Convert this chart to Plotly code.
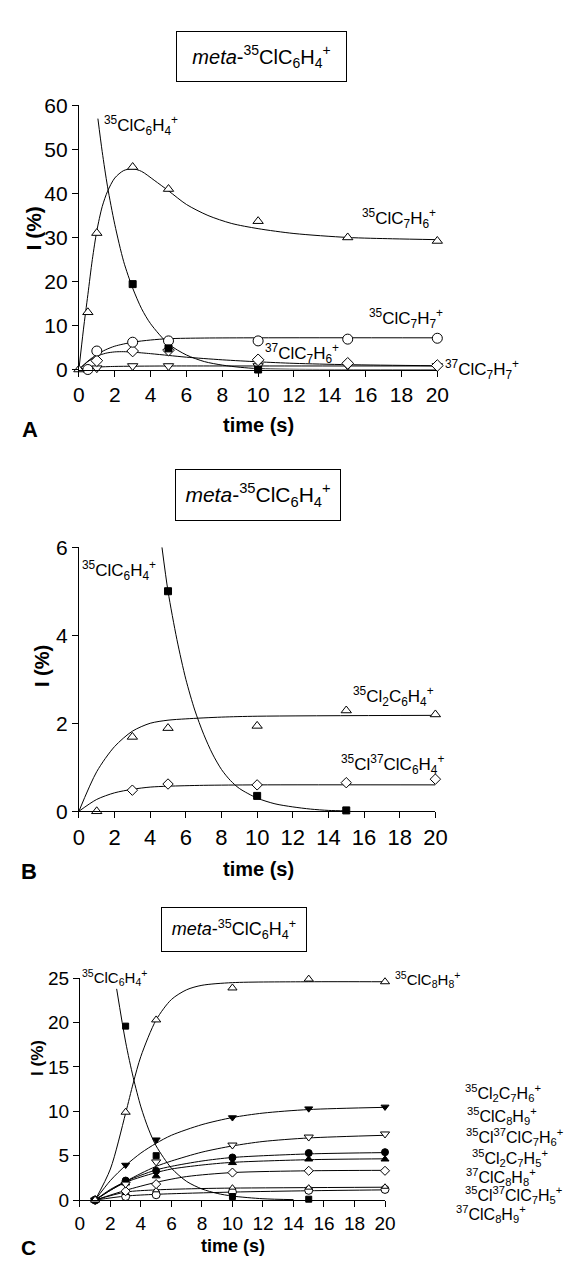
import plotly.graph_objects as go

W, H = 575, 1261
FONT = "Liberation Sans, Arial, sans-serif"

# ---------------- Panel A data ----------------
tA_tri = [0, 0.5, 1, 3, 5, 10, 15, 20]
IA_tri = [0, 13, 31, 46, 41, 33.7, 30, 29.2]
tA_tri_fit = [0, 0.25, 0.5, 0.75, 1.0, 1.3, 1.6, 2.0, 2.5, 3.0, 3.5, 4.2, 5, 6, 7.2, 8.5, 10, 12, 15, 17.5, 20]
IA_tri_fit = [0, 9, 17, 25, 31.5, 37, 40.5, 43.5, 45.2, 45.6, 45.0, 43, 40.6, 37.5, 35, 33.2, 32, 30.9, 30, 29.7, 29.5]

tA_sq = [3, 5, 10, 15]
IA_sq = [19.4, 4.8, 0.0, -0.4]
tA_sq_fit = [1.06, 1.3, 1.6, 2, 2.5, 3, 3.5, 4, 5, 6, 7, 8, 9, 10, 12, 15, 20]
IA_sq_fit = [57, 49.5, 41.5, 33, 24.5, 18.5, 13.8, 10.4, 5.8, 3.3, 1.8, 1.0, 0.5, 0.2, 0.05, 0, 0]

tA_circ = [0.5, 1, 3, 5, 10, 15, 20]
IA_circ = [0, 4.2, 6.2, 6.5, 6.5, 6.9, 7.1]
tA_circ_fit = [0, 0.5, 1, 1.5, 2, 3, 4, 5, 7, 10, 20]
IA_circ_fit = [0, 1.9, 3.4, 4.5, 5.3, 6.2, 6.7, 7.0, 7.15, 7.2, 7.2]

tA_dia = [1, 3, 5, 10, 15, 20]
IA_dia = [2.0, 4.2, 4.4, 2.2, 1.4, 0.9]
tA_dia_fit = [0, 0.5, 1, 1.5, 2, 2.5, 3, 4, 5, 6, 8, 10, 12, 15, 20]
IA_dia_fit = [0, 1.8, 3.0, 3.7, 4.0, 4.05, 3.95, 3.6, 3.2, 2.8, 2.2, 1.75, 1.4, 1.1, 0.85]

tA_inv = [1, 3, 5, 10, 15, 20]
IA_inv = [0.3, 0.8, 0.8, 0.8, 0.9, 0.8]
tA_inv_fit = [0, 0.5, 1, 2, 3, 5, 10, 20]
IA_inv_fit = [0, 0.4, 0.55, 0.7, 0.75, 0.8, 0.8, 0.8]

# ---------------- Panel B data ----------------
tB_sq = [5, 10, 15]
IB_sq = [5.0, 0.35, 0.02]
tB_sq_fit = [4.66, 5, 5.5, 6, 6.5, 7, 7.5, 8, 8.5, 9, 10, 11, 12, 13, 14, 15]
IB_sq_fit = [6.0, 5.0, 3.9, 3.0, 2.3, 1.75, 1.3, 0.95, 0.7, 0.52, 0.3, 0.17, 0.1, 0.05, 0.02, 0.01]

tB_tri = [1, 3, 5, 10, 15, 20]
IB_tri = [0, 1.69, 1.89, 1.94, 2.29, 2.2]
tB_tri_fit = [0, 1, 2, 3, 4, 5, 6, 8, 10, 20]
IB_tri_fit = [0, 0.9, 1.47, 1.82, 2.0, 2.07, 2.1, 2.14, 2.16, 2.18]

tB_dia = [3, 5, 10, 15, 20]
IB_dia = [0.48, 0.62, 0.6, 0.65, 0.73]
tB_dia_fit = [0, 1, 2, 3, 4, 5, 7, 10, 20]
IB_dia_fit = [0, 0.27, 0.42, 0.5, 0.55, 0.57, 0.59, 0.6, 0.6]

# ---------------- Panel C data ----------------
tC_sq = [3, 5, 10, 15]
IC_sq = [19.6, 5.0, 0.4, 0.1]
tC_sq_fit = [2.41, 3, 3.5, 4, 4.5, 5, 6, 7, 8, 9, 10, 12, 14]
IC_sq_fit = [23.8, 17.8, 13.8, 10.5, 8, 6.1, 3.6, 2.1, 1.25, 0.75, 0.45, 0.15, 0.05]

tC = [1, 3, 5, 10, 15, 20]
IC_tri = [0, 9.9, 20.3, 23.9, 24.9, 24.6]
tC_tri_fit = [1, 2, 3, 3.5, 4, 5, 6, 7, 8, 10, 15, 20]
IC_tri_fit = [0, 3.5, 9.8, 13.2, 16.2, 20.3, 22.6, 23.7, 24.2, 24.5, 24.6, 24.6]

IC_inv_f = [0, 3.95, 6.8, 9.3, 10.3, 10.5]
tC_inv_f_fit = [1, 2, 3, 4, 5, 6, 8, 10, 12, 15, 20]
IC_inv_f_fit = [0, 2.2, 3.9, 5.3, 6.4, 7.3, 8.5, 9.3, 9.8, 10.2, 10.45]

IC_inv_o = [0, 1.8, 4.3, 6.2, 7.1, 7.45]
tC_inv_o_fit = [1, 2, 3, 4, 5, 6, 8, 10, 12, 15, 20]
IC_inv_o_fit = [0, 1.1, 2.1, 3.0, 3.8, 4.4, 5.4, 6.1, 6.6, 7.0, 7.3]

IC_circ_f = [0, 2.2, 3.3, 4.8, 5.3, 5.4]
tC_circ_f_fit = [1, 2, 3, 4, 5, 6, 8, 10, 15, 20]
IC_circ_f_fit = [0, 1.2, 2.1, 2.8, 3.4, 3.8, 4.4, 4.8, 5.2, 5.35]

IC_tri_f = [0, 1.9, 2.7, 4.2, 4.6, 4.6]
tC_tri_f_fit = [1, 2, 3, 4, 5, 6, 8, 10, 15, 20]
IC_tri_f_fit = [0, 1.1, 2.0, 2.6, 3.1, 3.5, 3.95, 4.25, 4.55, 4.65]

IC_dia = [0, 1.0, 1.8, 3.1, 3.3, 3.3]
tC_dia_fit = [1, 3, 5, 7, 10, 15, 20]
IC_dia_fit = [0, 1.1, 2.0, 2.65, 3.1, 3.3, 3.35]

IC_tri_s = [0, 0.8, 1.1, 1.4, 1.4, 1.5]
tC_tri_s_fit = [1, 3, 5, 8, 10, 20]
IC_tri_s_fit = [0, 0.9, 1.15, 1.3, 1.35, 1.45]

IC_circ_o = [0, 0.4, 0.6, 0.9, 1.1, 1.2]
tC_circ_o_fit = [1, 3, 5, 10, 15, 20]
IC_circ_o_fit = [0, 0.45, 0.65, 0.9, 1.05, 1.15]

xticks = list(range(0, 21, 2))

# ---------------- figure ----------------
fig = go.Figure()


def px_x(x):
    return x / W


def px_y(y):
    return 1 - y / H


def add_fit(t, v, ax):
    fig.add_trace(go.Scatter(x=t, y=v, mode="lines", xaxis=ax[0], yaxis=ax[1],
                             line=dict(color="black", width=1, shape="spline", smoothing=0.8),
                             hoverinfo="skip", showlegend=False))


def add_pts(t, v, ax, symbol, size, fill=False):
    fig.add_trace(go.Scatter(x=t, y=v, mode="markers", xaxis=ax[0], yaxis=ax[1], cliponaxis=False,
                             marker=dict(symbol=symbol, size=size,
                                         color="black" if fill else "white",
                                         line=dict(color="black", width=1)),
                             showlegend=False))


A = ("x", "y")
B = ("x2", "y2")
C = ("x3", "y3")

# Panel A
for t, v in [(tA_tri_fit, IA_tri_fit), (tA_sq_fit, IA_sq_fit), (tA_circ_fit, IA_circ_fit),
             (tA_dia_fit, IA_dia_fit), (tA_inv_fit, IA_inv_fit)]:
    add_fit(t, v, A)
add_pts(tA_inv, IA_inv, A, "triangle-down", 9)
add_pts(tA_dia, IA_dia, A, "diamond", 9)
add_pts(tA_circ, IA_circ, A, "circle", 10)
add_pts(tA_sq, IA_sq, A, "square", 7, fill=True)
add_pts(tA_tri, IA_tri, A, "triangle-up", 9)

# Panel B
for t, v in [(tB_sq_fit, IB_sq_fit), (tB_tri_fit, IB_tri_fit), (tB_dia_fit, IB_dia_fit)]:
    add_fit(t, v, B)
add_pts(tB_tri, IB_tri, B, "triangle-up", 9)
add_pts(tB_dia, IB_dia, B, "diamond", 8)
add_pts(tB_sq, IB_sq, B, "square", 7, fill=True)

# Panel C
for t, v in [(tC_sq_fit, IC_sq_fit), (tC_tri_fit, IC_tri_fit), (tC_inv_f_fit, IC_inv_f_fit),
             (tC_inv_o_fit, IC_inv_o_fit), (tC_circ_f_fit, IC_circ_f_fit), (tC_tri_f_fit, IC_tri_f_fit),
             (tC_dia_fit, IC_dia_fit), (tC_tri_s_fit, IC_tri_s_fit), (tC_circ_o_fit, IC_circ_o_fit)]:
    add_fit(t, v, C)
add_pts(tC, IC_circ_o, C, "circle", 8)
add_pts(tC, IC_tri_s, C, "triangle-up", 6)
add_pts(tC, IC_dia, C, "diamond", 7)
add_pts(tC, IC_tri_f, C, "triangle-up", 7, fill=True)
add_pts(tC, IC_circ_f, C, "circle", 7, fill=True)
add_pts(tC, IC_inv_o, C, "triangle-down", 8)
add_pts(tC, IC_inv_f, C, "triangle-down", 7, fill=True)
add_pts(tC_sq, IC_sq, C, "square", 6, fill=True)
add_pts(tC, IC_tri, C, "triangle-up", 8)


def axis_common(size):
    return dict(showline=True, linecolor="black", linewidth=1, ticks="outside", ticklen=6,
                tickwidth=1, tickcolor="black", showgrid=False, zeroline=False,
                tickfont=dict(family=FONT, size=size, color="black"), fixedrange=True)


# pixel geometry of the three plot areas
axA = dict(x0=67, x1=437, y0=356, y1=87)
axB = dict(x0=67, x1=435, y0=806, y1=537)
axC = dict(x0=68, x1=383, y0=1202, y1=976)

layout = dict(width=W, height=H, autosize=False, margin=dict(l=0, r=0, t=0, b=0),
              paper_bgcolor="white", plot_bgcolor="white",
              font=dict(family=FONT, color="black"))

for i, (g, yr, ydt, xs, ys) in enumerate([(axA, [0, 60], 10, 21, 21),
                                           (axB, [0, 6], 2, 22, 21),
                                           (axC, [0, 25], 5, 19, 19)]):
    sfx = "" if i == 0 else str(i + 1)
    layout["xaxis" + sfx] = dict(axis_common(xs), range=[0, 20], tickvals=xticks,
                                 domain=[px_x(g["x0"]), px_x(g["x1"])], anchor="y" + sfx)
    layout["yaxis" + sfx] = dict(axis_common(ys), range=yr, dtick=ydt,
                                 domain=[px_y(g["y0"]), px_y(g["y1"])], anchor="x" + sfx)

fig.update_layout(**layout)

ann = []


def label(text, x, y, size, anchor="center", bold=False, angle=0):
    ann.append(dict(text=("<b>%s</b>" % text) if bold else text, x=px_x(x), y=px_y(y),
                    xref="paper", yref="paper", showarrow=False, xanchor=anchor, yanchor="middle",
                    textangle=angle, font=dict(family=FONT, size=size, color="black")))


def box(x0, x1, y0, y1, size):
    ann.append(dict(text="<i>meta</i>-<sup>35</sup>ClC<sub>6</sub>H<sub>4</sub><sup>+</sup>",
                    x=px_x((x0 + x1) / 2), y=px_y((y0 + y1) / 2), xref="paper", yref="paper",
                    showarrow=False, xanchor="center", yanchor="middle",
                    width=x1 - x0 - 2, height=y1 - y0 - 2, borderpad=0,
                    bordercolor="black", borderwidth=1, bgcolor="white",
                    font=dict(family=FONT, size=size, color="black")))


box(170, 341, 12, 63, 20)
box(169, 335, 458, 510, 21)
box(154, 300, 904, 949, 18)

# axis titles and panel letters
label("I (%)", 20, 212, 21, bold=True, angle=-90)
label("I (%)", 29, 658, 20, bold=True, angle=-90)
label("I (%)", 25, 1057, 17, bold=True, angle=-90)
label("time (s)", 252, 413, 20, bold=True)
label("time (s)", 252, 865, 20, bold=True)
label("time (s)", 226, 1249, 18, bold=True)
label("A", 17, 417, 22, bold=True)
label("B", 16, 867, 22, bold=True)
label("C", 15, 1250, 21, bold=True)

# series labels panel A
label("<sup>35</sup>ClC<sub>6</sub>H<sub>4</sub><sup>+</sup>", 131, 107, 17)
label("<sup>35</sup>ClC<sub>7</sub>H<sub>6</sub><sup>+</sup>", 397, 202, 17)
label("<sup>35</sup>ClC<sub>7</sub>H<sub>7</sub><sup>+</sup>", 405, 304, 17)
label("<sup>37</sup>ClC<sub>7</sub>H<sub>6</sub><sup>+</sup>", 297, 340, 17)
label("<sup>37</sup>ClC<sub>7</sub>H<sub>7</sub><sup>+</sup>", 483, 356, 17)

# series labels panel B
label("<sup>35</sup>ClC<sub>6</sub>H<sub>4</sub><sup>+</sup>", 108, 561, 17)
label("<sup>35</sup>Cl<sub>2</sub>C<sub>6</sub>H<sub>4</sub><sup>+</sup>", 392, 689, 17)
label("<sup>35</sup>Cl<sup>37</sup>ClC<sub>6</sub>H<sub>4</sub><sup>+</sup>", 391, 758, 17)

# series labels panel C
label("<sup>35</sup>ClC<sub>6</sub>H<sub>4</sub><sup>+</sup>", 104, 975, 15)
label("<sup>35</sup>ClC<sub>8</sub>H<sub>8</sub><sup>+</sup>", 427, 977, 15)
label("<sup>35</sup>Cl<sub>2</sub>C<sub>7</sub>H<sub>6</sub><sup>+</sup>", 505, 1093, 16)
label("<sup>35</sup>ClC<sub>8</sub>H<sub>9</sub><sup>+</sup>", 504, 1116, 16)
label("<sup>35</sup>Cl<sup>37</sup>ClC<sub>7</sub>H<sub>6</sub><sup>+</sup>", 517, 1138, 16)
label("<sup>35</sup>Cl<sub>2</sub>C<sub>7</sub>H<sub>5</sub><sup>+</sup>", 512, 1159, 16)
label("<sup>37</sup>ClC<sub>8</sub>H<sub>8</sub><sup>+</sup>", 503, 1178, 16)
label("<sup>35</sup>Cl<sup>37</sup>ClC<sub>7</sub>H<sub>5</sub><sup>+</sup>", 516, 1197, 16)
label("<sup>37</sup>ClC<sub>8</sub>H<sub>9</sub><sup>+</sup>", 492, 1216, 16)

fig.update_layout(annotations=ann)
fig.write_html("out.html")
